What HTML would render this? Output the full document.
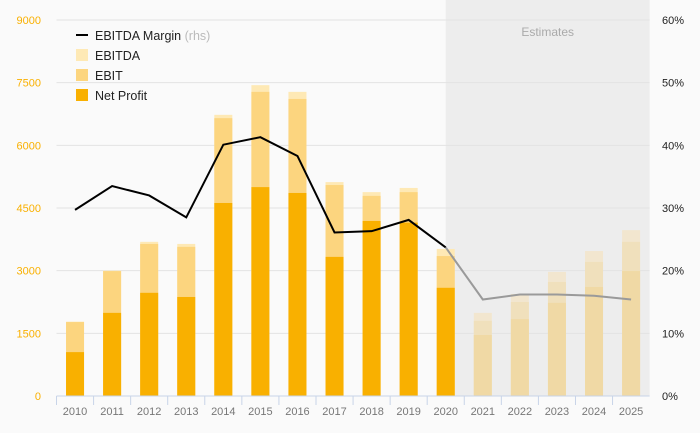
<!DOCTYPE html>
<html><head><meta charset="utf-8"><style>
body{margin:0;background:#fafafa;font-family:"Liberation Sans","DejaVu Sans",sans-serif}
svg{display:block}
</style></head><body>
<svg id="c" width="700" height="433">
<rect x="0" y="0" width="700" height="433" fill="#fafafa"/>
<g id="grid"></g><g id="bars"></g><g id="line"></g><g id="axes"></g>
<g font-size="12.5" fill="#222">
<line x1="76" y1="35" x2="88" y2="35" stroke="#000" stroke-width="2"/>
<text x="95" y="40">EBITDA Margin <tspan fill="#bbb">(rhs)</tspan></text>
<rect x="76" y="49" width="12" height="12" fill="#FEE9B5"/><text x="95" y="60">EBITDA</text>
<rect x="76" y="69" width="12" height="12" fill="#FCD57F"/><text x="95" y="80">EBIT</text>
<rect x="76" y="89" width="12" height="12" fill="#F9B000"/><text x="95" y="100">Net Profit</text>
</g>
</svg>
<script>
const years=["2010","2011","2012","2013","2014","2015","2016","2017","2018","2019","2020","2021","2022","2023","2024","2025"];
const netProfit=[1050,1990,2470,2370,4620,5000,4860,3330,4190,4150,2590,1460,1840,2230,2610,2990];
const ebit=[1770,2990,3640,3570,6650,7280,7110,5050,4790,4880,3350,1800,2250,2730,3210,3690];
const ebitda=[1780,3000,3690,3640,6730,7440,7280,5120,4880,4980,3520,1990,2440,2970,3470,3970];
const margin=[29.7,33.5,32.0,28.5,40.1,41.3,38.3,26.1,26.3,28.1,23.7,15.4,16.2,16.2,16.0,15.4];
const leftTicks=[0,1500,3000,4500,6000,7500,9000];
const rightTicks=[0,10,20,30,40,50,60];
const firstEstimate=11;
const NS="http://www.w3.org/2000/svg";
const X0=56.5,BW=37.07,Y0=396,Y1=20;
const x=i=>X0+BW*(i+0.5);
const y=v=>Y0-(v/9000)*(Y0-Y1);
const yr=p=>Y0-(p/60)*(Y0-Y1);
function mk(t,a,p){const e=document.createElementNS(NS,t);for(const k in a)e.setAttribute(k,a[k]);p.appendChild(e);return e;}
const grid=document.getElementById('grid'),bars=document.getElementById('bars'),line=document.getElementById('line'),axes=document.getElementById('axes');
const sx=x(firstEstimate-1);
const ex=X0+BW*years.length;
const sh=mk('rect',{x:sx,y:0,width:ex-sx,height:Y0,fill:'#ededed'},grid);


const st=mk('text',{x:(sx+ex)/2,y:36,'text-anchor':'middle','font-size':12,fill:'#aaa'},grid);st.textContent='Estimates';


leftTicks.forEach((v,i)=>{
 if(v>0){const g=mk('line',{x1:X0,x2:ex,y1:y(v),y2:y(v),stroke:'#e3e3e3'},grid);
 
 }
 const t=mk('text',{x:41,y:y(v)+4,'text-anchor':'end','font-size':11,fill:'#F9B000'},axes);t.textContent=v;
 
 
});
rightTicks.forEach(p=>{
 const t=mk('text',{x:662,y:yr(p)+4,'font-size':11,fill:'#222'},axes);t.textContent=p+'%';
 
 
});
years.forEach((yy,i)=>{
 const est=i>=firstEstimate;
 const cols=est?['#F2E6CF','#F0E0BC','#F0D9A5']:['#FEE9B5','#FCD57F','#F9B000'];
 [[ebitda,'ebitda'],[ebit,'ebit'],[netProfit,'net-profit']].forEach(([arr,n],k)=>{
  const r=mk('rect',{x:x(i)-9,y:y(arr[i]),width:18,height:Y0-y(arr[i]),fill:cols[k]},bars);
  
  
 });
 const tk=mk('line',{x1:X0+BW*i,x2:X0+BW*i,y1:Y0,y2:Y0+9,stroke:'#c8d4e8'},axes);
 
 
 const t=mk('text',{x:x(i),y:415,'text-anchor':'middle','font-size':11,fill:'#777'},axes);t.textContent=yy;
 
 
});
const ax=mk('line',{x1:X0,x2:ex,y1:Y0,y2:Y0,stroke:'#c8d4e8'},axes);


const a=margin.slice(0,firstEstimate).map((m,i)=>x(i)+','+yr(m)).join(' ');
const b=margin.slice(firstEstimate-1).map((m,j)=>x(j+firstEstimate-1)+','+yr(m)).join(' ');
const l1=mk('polyline',{points:a,fill:'none',stroke:'#000','stroke-width':2},line);


const l2=mk('polyline',{points:b,fill:'none',stroke:'#9a9a9a','stroke-width':2},line);


</script>
</body></html>
